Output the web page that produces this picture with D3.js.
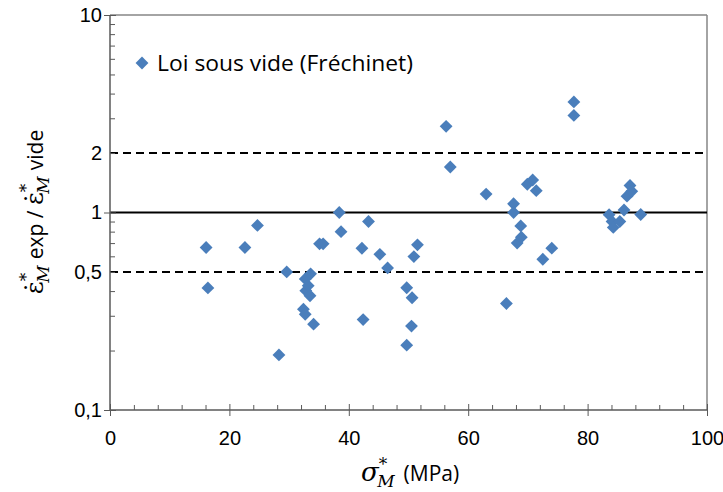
<!DOCTYPE html>
<html><head><meta charset="utf-8">
<script src="https://cdn.jsdelivr.net/npm/d3@7"></script>
<style>body{margin:0;background:#fff}</style></head>
<body>
<svg id="c" width="723" height="492"></svg>
<script>
const xValues = [16.1,16.4,22.6,24.7,28.3,29.6,32.4,32.7,32.7,32.8,33.2,33.5,33.6,34.1,35.1,35.7,38.4,38.7,42.2,42.4,43.3,45.2,46.5,49.7,49.7,50.5,50.6,50.9,51.5,56.3,57.0,63.0,66.4,67.6,67.6,68.2,68.8,68.9,69.9,70.8,71.4,72.5,74.0,77.7,77.7,83.6,84.1,84.3,85.4,86.1,86.6,87.1,87.4,88.9];
const yValues = [0.665,0.415,0.665,0.86,0.19,0.50,0.324,0.305,0.461,0.402,0.426,0.379,0.489,0.272,0.694,0.694,1.0,0.80,0.659,0.287,0.90,0.614,0.524,0.416,0.213,0.266,0.37,0.598,0.686,2.73,1.70,1.24,0.346,1.107,1.0,0.70,0.855,0.75,1.39,1.46,1.29,0.58,0.66,3.63,3.10,0.975,0.90,0.84,0.90,1.03,1.21,1.37,1.28,0.977];
const xTicks = [0,20,40,60,80,100];
const xMinorTicks = d3.range(0,101,4);
const yTickLabels = [0.1,0.5,1,2,10];
const yLabelText = ["0,1","0,5","1","2","10"];
const yMinorTicks = [0.2,0.3,0.4,0.5,0.6,0.7,0.8,0.9,2,3,4,5,6,7,8,9];
const yMajorTicks = [0.1,1,10];
const refValues = [0.5,1,2];
const seriesName = "Loi sous vide (Fréchinet)";

const svg = d3.select("#c");
const L=110,R=707,T=15,B=410;
const x = d3.scaleLinear().domain([0,100]).range([L,R]);
const y = d3.scaleLog().domain([0.1,10]).range([B,T]);
const font = "'Liberation Sans', Arial, sans-serif";
const sans = "'Open Sans', sans-serif";
const serif = "'DejaVu Serif', serif";

svg.append("line").attr("x1",L).attr("x2",R).attr("y1",T).attr("y2",T).attr("stroke","#868686").attr("stroke-width",1.5);
svg.append("line").attr("x1",R).attr("x2",R).attr("y1",T).attr("y2",B).attr("stroke","#868686").attr("stroke-width",1.5);

refValues.forEach(v=>{
  svg.append("line").attr("x1",L).attr("x2",R).attr("y1",y(v)).attr("y2",y(v))
    .attr("stroke","#000").attr("stroke-width",2)
    .attr("stroke-dasharray", v===1? null : "8,5");
});

const gx = svg.append("g").attr("transform",`translate(0,${B})`);
gx.call(d3.axisBottom(x).tickValues(xMinorTicks.filter(t=>!xTicks.includes(t))).tickSize(0).tickFormat(""));
gx.selectAll(".tick line").attr("y1",-5).attr("y2",0).attr("stroke","#595959");
const gx2 = svg.append("g").attr("transform",`translate(0,${B})`);
gx2.call(d3.axisBottom(x).tickValues(xTicks).tickSize(6).tickPadding(15).tickFormat(d=>d));
gx2.selectAll(".tick line").attr("y1",-6).attr("stroke","#595959");
gx2.selectAll(".tick text").attr("font-family",font).attr("font-size",20).attr("fill","#000");
gx.select(".domain").remove(); gx2.select(".domain").remove();
svg.append("line").attr("x1",L).attr("x2",R).attr("y1",B).attr("y2",B).attr("stroke","#595959").attr("stroke-width",1.5);

const gy = svg.append("g").attr("transform",`translate(${L},0)`);
gy.call(d3.axisLeft(y).tickValues(yMinorTicks).tickSize(0).tickFormat(""));
gy.selectAll(".tick line").attr("x1",0).attr("x2",5).attr("stroke","#595959");
gy.select(".domain").remove();
const gy2 = svg.append("g").attr("transform",`translate(${L},0)`);
gy2.call(d3.axisLeft(y).tickValues(yMajorTicks).tickSize(6).tickFormat(""));
gy2.selectAll(".tick line").attr("x2",-6).attr("x1",6).attr("stroke","#595959");
gy2.select(".domain").remove();
const gy3 = svg.append("g").attr("transform",`translate(${L},0)`);
gy3.call(d3.axisLeft(y).tickValues(yTickLabels).tickSize(0).tickPadding(8).tickFormat((d,i)=>yLabelText[i]));
gy3.selectAll(".tick text").attr("font-family",font).attr("font-size",20).attr("fill","#000");
gy3.select(".domain").remove();
svg.append("line").attr("x1",L).attr("x2",L).attr("y1",T).attr("y2",B).attr("stroke","#595959").attr("stroke-width",1.5);

const diamond = d3.symbol().type(d3.symbolDiamond2).size(105);
svg.append("g").selectAll("path").data(xValues.map((v,i)=>[v,yValues[i]])).join("path")
  .attr("d",diamond).attr("transform",d=>`translate(${x(d[0])},${y(d[1])})`)
  .attr("fill","#4a7ebb");

svg.append("path").attr("d",diamond).attr("transform","translate(142,63)").attr("fill","#4a7ebb");
svg.append("text").attr("x",157).attr("y",71).attr("font-family",sans).attr("font-size",21)
  .attr("textLength",256).attr("lengthAdjust","spacingAndGlyphs").attr("fill","#000").text(seriesName);

// x title
const xt = svg.append("text").attr("x",410).attr("y",481).attr("text-anchor","middle").attr("fill","#000");
xt.append("tspan").attr("font-family",serif).attr("font-style","italic").attr("font-size",26).text("σ");
xt.append("tspan").attr("font-family",serif).attr("font-size",17).attr("dy",-11).text("*");
xt.append("tspan").attr("font-family",serif).attr("font-style","italic").attr("font-size",17).attr("dx",-10).attr("dy",17).text("M");
xt.append("tspan").attr("font-family",sans).attr("font-size",21).attr("dx",9).attr("dy",-6).text("(MPa)");

// y title
const yt = svg.append("text").attr("transform","translate(43,212) rotate(-90)").attr("text-anchor","middle").attr("fill","#000");
function eps(sel,dy0){
  sel.append("tspan").attr("font-family",serif).attr("font-size",25).attr("dy",dy0).text("ε̇");
  sel.append("tspan").attr("font-family",serif).attr("font-size",17).attr("dy",-11).text("*");
  sel.append("tspan").attr("font-family",serif).attr("font-style","italic").attr("font-size",17).attr("dx",-10).attr("dy",17).text("M");
}
eps(yt,0);
yt.append("tspan").attr("font-family",sans).attr("font-size",21).attr("dx",6).attr("dy",-6).text("exp / ");
eps(yt,0);
yt.append("tspan").attr("font-family",sans).attr("font-size",21).attr("dx",6).attr("dy",-6).text("vide");
</script>
</body></html>
